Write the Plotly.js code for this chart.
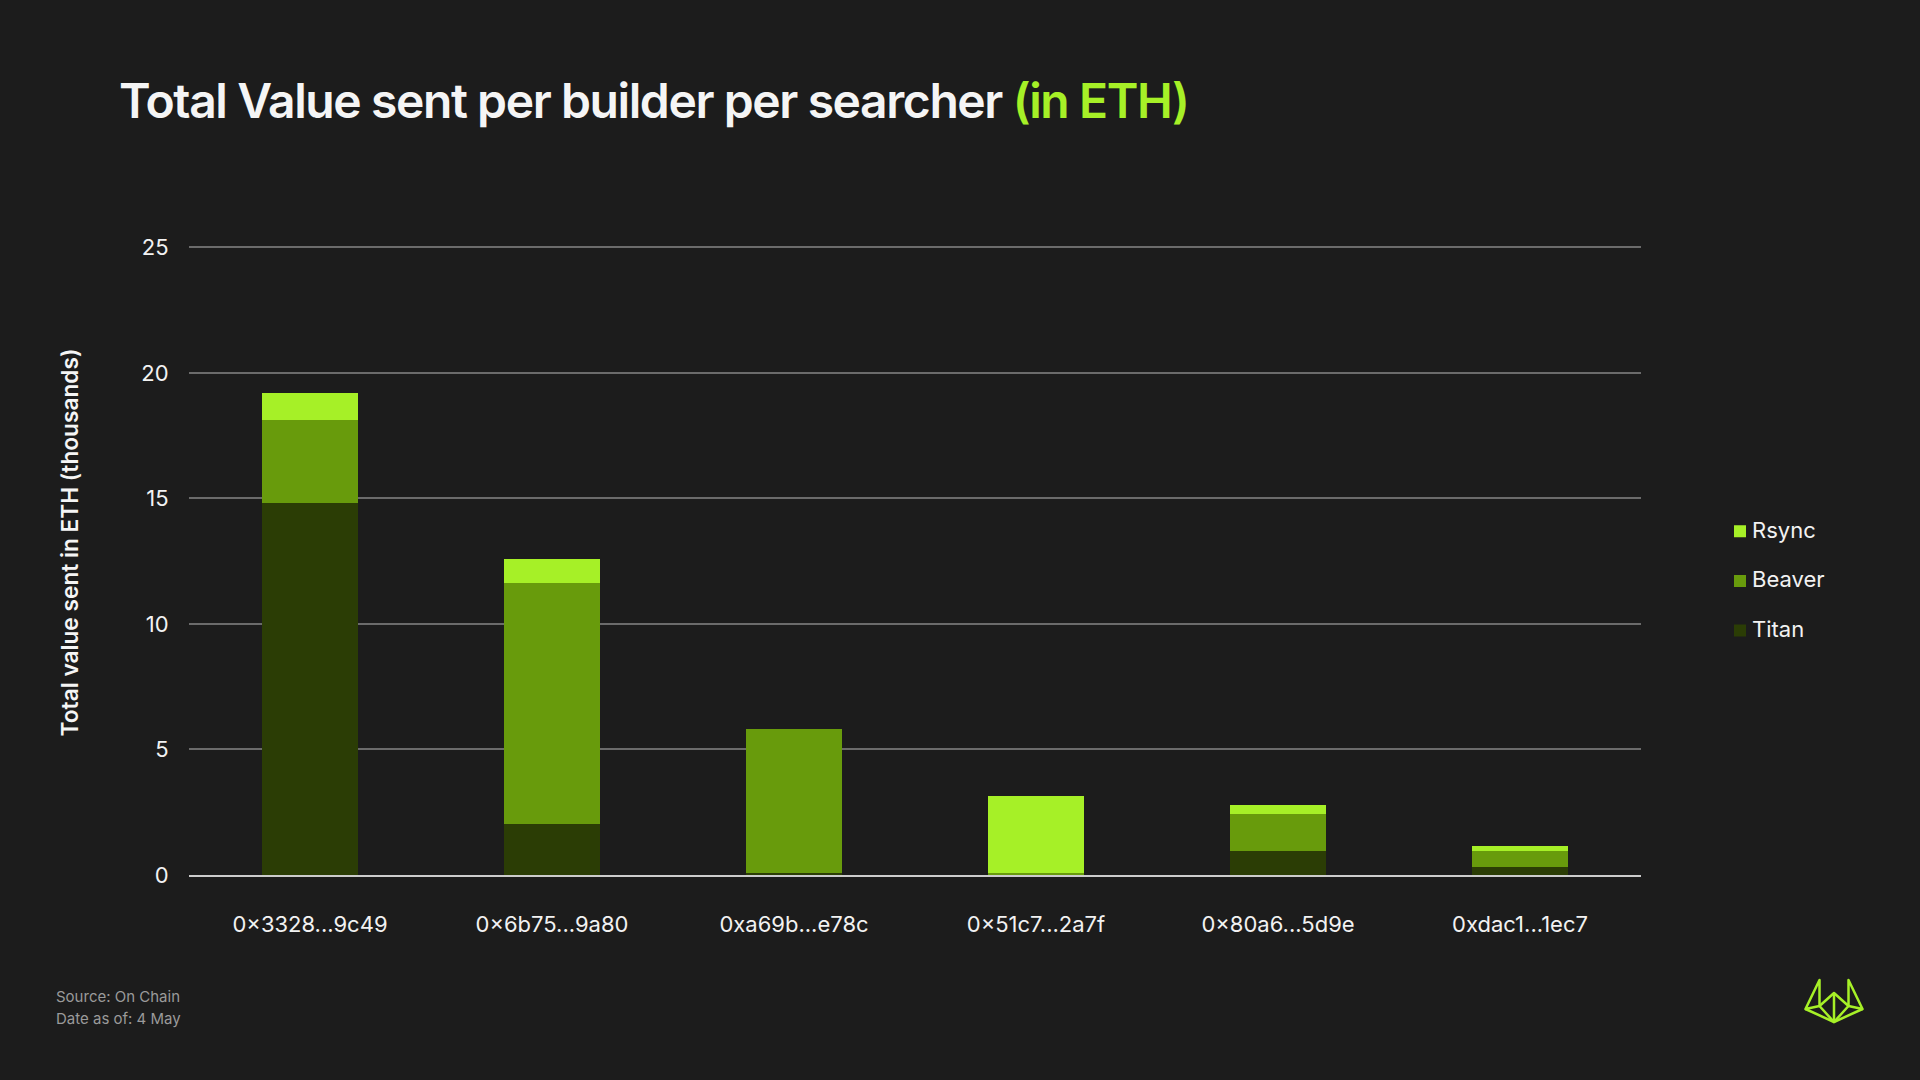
<!DOCTYPE html>
<html><head><meta charset="utf-8">
<script src="https://cdn.plot.ly/plotly-3.0.1.min.js"></script>
<style>html,body{margin:0;padding:0;background:#1c1c1c}#c{width:1920px;height:1080px}
g.legendpoints{transform:translate(8px,2px)}
.g-ytitle{transform:translate(-32px,-18px)}
.gtitle{letter-spacing:-1.4px}</style></head>
<body><div id="c"></div>
<script>
const categories=['0×3328...9c49','0×6b75...9a80','0xa69b...e78c','0×51c7...2a7f','0×80a6...5d9e','0xdac1...1ec7'];
const titan=[14.81,2.03,0.07,0,0.94,0.32];
const beaver=[3.32,9.61,5.75,0.07,1.49,0.62];
const rsync=[1.07,0.93,0,3.09,0.37,0.21];
const yTicks=[0,5,10,15,20,25];
const font='Inter, sans-serif';
const logo="data:image/svg+xml;utf8,"+encodeURIComponent('<svg xmlns="http://www.w3.org/2000/svg" viewBox="0 0 60 46"><g fill="none" stroke="#a6f027" stroke-width="2.5" stroke-linejoin="round"><path d="M15.5 2L1.5 31L15.5 28Z"/><path d="M44.5 2L58.5 31L44.5 28Z"/><path d="M1.5 31L30 44L58.5 31"/><path d="M15.5 28L30 15L44.5 28L30 44Z"/><path d="M30 15V44"/></g></svg>');
function bar(name,y,color,rank){return {type:'bar',name,x:categories,y,legendgroup:name,legendrank:rank,marker:{color,line:{width:0}},hoverinfo:'x+y+name'};}
Plotly.newPlot('c',[bar('Titan',titan,'#2b3d05',3),bar('Beaver',beaver,'#689b0c',2),bar('Rsync',rsync,'#a6f027',1)],{
 width:1920,height:1080,paper_bgcolor:'#1c1c1c',plot_bgcolor:'#1c1c1c',barmode:'stack',bargap:0.6,
 margin:{l:189,r:279,t:246,b:205,pad:0},
 font:{family:font,color:'#f2f2f2',size:22},
 title:{text:"Total Value sent per builder per searcher <span style='color:#a6f027'>(in ETH)</span>",x:119/1920,xref:'container',xanchor:'left',y:1-101/1080,yref:'container',yanchor:'middle',font:{family:font,size:48,weight:600,color:'#f5f5f5'}},
 xaxis:{type:'category',tickfont:{size:22,color:'#f2f2f2'},ticks:'outside',ticklen:29,tickcolor:'rgba(0,0,0,0)',showline:true,linecolor:'#cccccc',linewidth:2,showgrid:false,zeroline:false},
 yaxis:{range:[0,25.05],tickvals:yTicks,ticktext:yTicks.map(String),tickfont:{size:22,color:'#f2f2f2'},ticks:'outside',ticklen:15,tickcolor:'rgba(0,0,0,0)',gridcolor:'#6b6b6b',gridwidth:1.5,zeroline:false,showline:false,
  title:{text:'Total value sent in ETH (thousands)',standoff:24,font:{size:22.7,weight:600,color:'#f5f5f5'}}},
 legend:{x:1712/1920,xanchor:'left',y:1-579/1080,yanchor:'middle',xref:'container',yref:'container',traceorder:'grouped',tracegroupgap:18,font:{size:22,color:'#f2f2f2'},bgcolor:'rgba(0,0,0,0)'},
 annotations:[
  {text:'Source: On Chain',xref:'paper',yref:'paper',x:(54-189)/1452,y:-(996-875)/629,xanchor:'left',yanchor:'middle',showarrow:false,font:{size:15,color:'#9a9a9a'}},
  {text:'Date as of: 4 May',xref:'paper',yref:'paper',x:(54-189)/1452,y:-(1018-875)/629,xanchor:'left',yanchor:'middle',showarrow:false,font:{size:15,color:'#9a9a9a'}}
 ],
 images:[{source:logo,xref:'paper',yref:'paper',x:(1804-189)/1452,y:-(978-875)/629,sizex:60/1452,sizey:46/629,xanchor:'left',yanchor:'top',sizing:'stretch',layer:'above'}]
},{displayModeBar:false,responsive:false});
</script></body></html>
